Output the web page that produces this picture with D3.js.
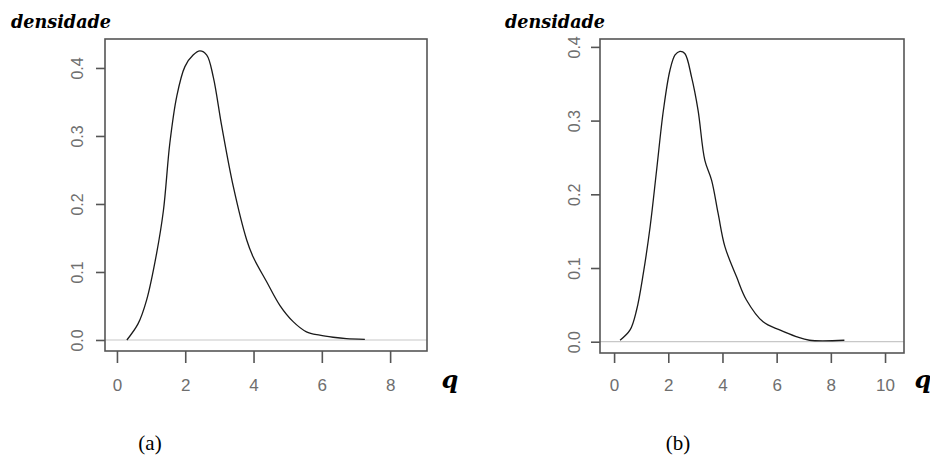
<!DOCTYPE html>
<html>
<head>
<meta charset="utf-8">
<script src="https://cdn.jsdelivr.net/npm/d3@7"></script>
<style>
  body { margin: 0; background: #fff; }
  svg { display: block; }
</style>
</head>
<body>
<svg id="chart" width="930" height="457"></svg>
<script>
// densidade estimada de q, painel (a)
var qA    = [0.29, 0.62, 0.87, 1.16, 1.36, 1.55, 1.75, 1.99, 2.23, 2.43, 2.63, 2.82, 3.07, 3.41, 3.80, 3.99, 4.38, 4.77, 5.16, 5.55, 5.94, 6.33, 6.72, 7.26]
var densA = [0.000, 0.024, 0.059, 0.127, 0.190, 0.290, 0.358, 0.402, 0.419, 0.425, 0.419, 0.387, 0.314, 0.225, 0.147, 0.122, 0.086, 0.051, 0.027, 0.012, 0.007, 0.004, 0.002, 0.001]

// painel (b)
var qB    = [0.22, 0.59, 0.83, 1.08, 1.33, 1.57, 1.82, 2.06, 2.25, 2.43, 2.61, 2.86, 3.10, 3.35, 3.60, 3.84, 4.09, 4.52, 4.88, 5.50, 6.11, 6.72, 7.21, 8.50]
var densB = [0.002, 0.016, 0.043, 0.093, 0.156, 0.233, 0.314, 0.368, 0.389, 0.394, 0.391, 0.359, 0.314, 0.246, 0.219, 0.174, 0.129, 0.088, 0.057, 0.027, 0.016, 0.007, 0.002, 0.002]

var xTicksA = [0, 2, 4, 6, 8]
var xTicksB = [0, 2, 4, 6, 8, 10]
var yTicks  = [0.0, 0.1, 0.2, 0.3, 0.4]

var svg = d3.select("#chart")

function drawPanel(p) {
    var x = d3.scaleLinear().domain(p.xDomain).range([p.left, p.right])
    var y = d3.scaleLinear().domain(p.yDomain).range([p.bottom, p.top])
    var g = svg.append("g")

    // linha cinza em y = 0
    g.append("line")
        .attr("x1", p.left).attr("x2", p.right)
        .attr("y1", y(0)).attr("y2", y(0))
        .attr("stroke", "#c8c8c8")
        .attr("stroke-width", 1.2)

    var pts = p.q.map(function (d, i) { return [d, p.dens[i]] })
    var line = d3.line()
        .x(function (d) { return x(d[0]) })
        .y(function (d) { return y(d[1]) })
        .curve(d3.curveCatmullRom.alpha(0.5))

    g.append("path")
        .datum(pts)
        .attr("d", line)
        .attr("fill", "none")
        .attr("stroke", "#1a1a1a")
        .attr("stroke-width", 1.3)

    // caixa
    g.append("rect")
        .attr("x", p.left).attr("y", p.top)
        .attr("width", p.right - p.left)
        .attr("height", p.bottom - p.top)
        .attr("fill", "none")
        .attr("stroke", "#555")
        .attr("stroke-width", 1.6)

    var xAxis = g.append("g")
        .attr("transform", "translate(0," + p.bottom + ")")
        .call(d3.axisBottom(x).tickValues(p.xTicks).tickSize(p.xTickLen).tickSizeOuter(0))
    xAxis.select(".domain").remove()
    xAxis.selectAll("line").attr("stroke", "#555").attr("stroke-width", 1.6)
    xAxis.selectAll("text")
        .attr("y", 0).attr("dy", 0)
        .attr("transform", "translate(0," + (385 - p.bottom) + ")")
        .attr("dominant-baseline", "central")
        .attr("font-family", "Liberation Sans, Arial, sans-serif")
        .attr("font-size", 17)
        .attr("fill", "#6e6e6e")

    var yAxis = g.append("g")
        .attr("transform", "translate(" + p.left + ",0)")
        .call(d3.axisLeft(y).tickValues(yTicks).tickFormat(d3.format(".1f")).tickSize(9).tickSizeOuter(0))
    yAxis.select(".domain").remove()
    yAxis.selectAll("line").attr("stroke", "#555").attr("stroke-width", 1.6)
    yAxis.selectAll("text")
        .attr("x", 0).attr("dy", 0)
        .attr("transform", "translate(" + (-p.yLabelOff) + ",0) rotate(-90)")
        .attr("text-anchor", "middle")
        .attr("dominant-baseline", "central")
        .attr("font-family", "Liberation Sans, Arial, sans-serif")
        .attr("font-size", 16)
        .attr("fill", "#6e6e6e")

    svg.append("text")
        .attr("x", p.titleX).attr("y", 28)
        .attr("textLength", 100)
        .attr("lengthAdjust", "spacingAndGlyphs")
        .attr("font-family", "DejaVu Serif, serif")
        .attr("font-weight", "bold")
        .attr("font-style", "italic")
        .attr("font-size", 19)
        .attr("fill", "#000")
        .text("densidade")

    svg.append("text")
        .attr("x", p.qX).attr("y", 388)
        .attr("text-anchor", "middle")
        .attr("font-family", "DejaVu Serif, serif")
        .attr("font-weight", "bold")
        .attr("font-style", "italic")
        .attr("font-size", 24)
        .attr("fill", "#000")
        .text("q")

    svg.append("text")
        .attr("x", p.capX).attr("y", 450)
        .attr("text-anchor", "middle")
        .attr("font-family", "Liberation Serif, Times New Roman, serif")
        .attr("font-size", 21)
        .attr("fill", "#000")
        .text(p.caption)
}

drawPanel({
    q: qA, dens: densA, xTicks: xTicksA,
    xDomain: [-0.35, 9.08], yDomain: [-0.0162, 0.4426],
    left: 105, right: 427, top: 39, bottom: 351,
    xTickLen: 12, yLabelOff: 28,
    titleX: 11, qX: 450, capX: 150, caption: "(a)"
})

drawPanel({
    q: qB, dens: densB, xTicks: xTicksB,
    xDomain: [-0.52, 10.7], yDomain: [-0.0153, 0.4107],
    left: 600, right: 904, top: 39, bottom: 353,
    xTickLen: 10, yLabelOff: 26,
    titleX: 505, qX: 923, capX: 678, caption: "(b)"
})
</script>
</body>
</html>
